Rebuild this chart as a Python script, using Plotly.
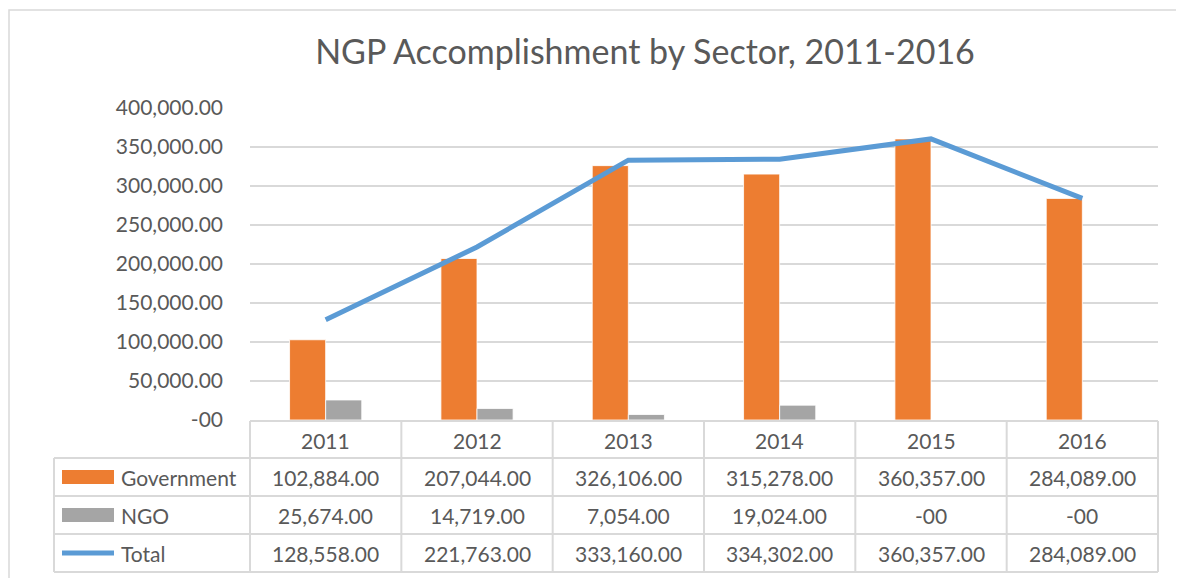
import plotly.graph_objects as go

years = ["2011", "2012", "2013", "2014", "2015", "2016"]
government = [102884, 207044, 326106, 315278, 360357, 284089]
ngo = [25674, 14719, 7054, 19024, 0, 0]
total = [128558, 221763, 333160, 334302, 360357, 284089]
y_ticks = [0, 50000, 100000, 150000, 200000, 250000, 300000, 350000, 400000]
series_names = ["Government", "NGO", "Total"]

ORANGE = "#ED7D31"
GRAY = "#A5A5A5"
BLUE = "#5B9BD5"
TEXT = "#595959"
GRID = "#D9D9D9"
FONT = "Lato"
FS = 21

# page body margin offset (browser default 8px)
OFF = 8
W, H = 1184 - OFF, 578 - OFF
L, R, T, B = 250 - OFF, 1158 - OFF, 108 - OFF, 420 - OFF
PW, PH = R - L, B - T


def fmt(v):
    return "-00" if v == 0 else f"{v:,.2f}"


def px(x):
    # x given in reference-screen pixels
    return (x - OFF - L) / PW


def py(y):
    return (B - (y - OFF)) / PH


xs = list(range(len(years)))

fig = go.Figure()
fig.add_trace(go.Bar(x=xs, y=government, name=series_names[0], marker=dict(color=ORANGE, line=dict(color="white", width=0.8))))
fig.add_trace(go.Bar(x=xs, y=ngo, name=series_names[1], marker=dict(color=GRAY, line=dict(color="white", width=0.8))))
fig.add_trace(go.Scatter(x=xs, y=total, name=series_names[2], mode="lines", line=dict(color=BLUE, width=5)))

shapes = []
annotations = []
line_style = dict(color=GRID, width=2)

# outer chart border
shapes.append(dict(type="rect", xref="paper", yref="paper", x0=px(9), x1=px(1200), y0=py(10), y1=py(600),
                   line=dict(color=GRID, width=1.5), fillcolor="rgba(0,0,0,0)", layer="below"))

# table grid
row_edges = [421, 458, 496, 534, 572]
col_w = PW / len(years)
for i, ry in enumerate(row_edges):
    x0 = 250 if i == 0 else 54
    shapes.append(dict(type="line", xref="paper", yref="paper", x0=px(x0), x1=px(1158), y0=py(ry), y1=py(ry), line=line_style))
shapes.append(dict(type="line", xref="paper", yref="paper", x0=px(54), x1=px(54), y0=py(458), y1=py(572), line=line_style))
for i in range(len(years) + 1):
    xx = 250 + i * col_w
    shapes.append(dict(type="line", xref="paper", yref="paper", x0=px(xx), x1=px(xx), y0=py(421), y1=py(572), line=line_style))

# header (years)
for i, yr in enumerate(years):
    annotations.append(dict(x=i, xref="x", y=py(440), yref="paper", text=yr, showarrow=False,
                            font=dict(family=FONT, size=FS, color=TEXT), xanchor="center", yanchor="middle"))

# data rows
row_centers = [477, 515, 553]
for r, vals in enumerate([government, ngo, total]):
    for i, v in enumerate(vals):
        annotations.append(dict(x=i, xref="x", y=py(row_centers[r]), yref="paper", text=fmt(v), showarrow=False,
                                font=dict(family=FONT, size=FS, color=TEXT), xanchor="center", yanchor="middle"))
    annotations.append(dict(x=px(119), xref="paper", y=py(row_centers[r]), yref="paper", text=series_names[r],
                            showarrow=False, font=dict(family=FONT, size=FS, color=TEXT), xanchor="left", yanchor="middle"))

# legend keys
shapes.append(dict(type="rect", xref="paper", yref="paper", x0=px(62), x1=px(114), y0=py(470), y1=py(484),
                   fillcolor=ORANGE, line=dict(width=0)))
shapes.append(dict(type="rect", xref="paper", yref="paper", x0=px(62), x1=px(114), y0=py(508), y1=py(522),
                   fillcolor=GRAY, line=dict(width=0)))
shapes.append(dict(type="line", xref="paper", yref="paper", x0=px(62), x1=px(114), y0=py(553), y1=py(553),
                   line=dict(color=BLUE, width=5)))

fig.update_layout(
    width=W, height=H,
    margin=dict(l=L, r=W - R, t=T, b=H - B, pad=0),
    paper_bgcolor="white", plot_bgcolor="white",
    showlegend=False,
    barmode="group", bargap=0.523, bargroupgap=0,
    title=dict(text="NGP Accomplishment by Sector, 2011-2016", x=(645 - OFF) / W, xanchor="center",
               y=1 - (52 - OFF) / H, yanchor="middle", xref="container", yref="container",
               font=dict(family=FONT, size=34, color=TEXT)),
    xaxis=dict(range=[-0.5, len(years) - 0.5], showticklabels=False, showgrid=False, zeroline=False, fixedrange=True),
    yaxis=dict(range=[0, 400000], tickvals=y_ticks, ticktext=[fmt(v) for v in y_ticks],
               showgrid=True, gridcolor=GRID, gridwidth=1.5, zeroline=False,
               tickfont=dict(family=FONT, size=FS, color=TEXT), ticklabelstandoff=26),
    shapes=shapes, annotations=annotations,
)

fig.write_html("out.html")
